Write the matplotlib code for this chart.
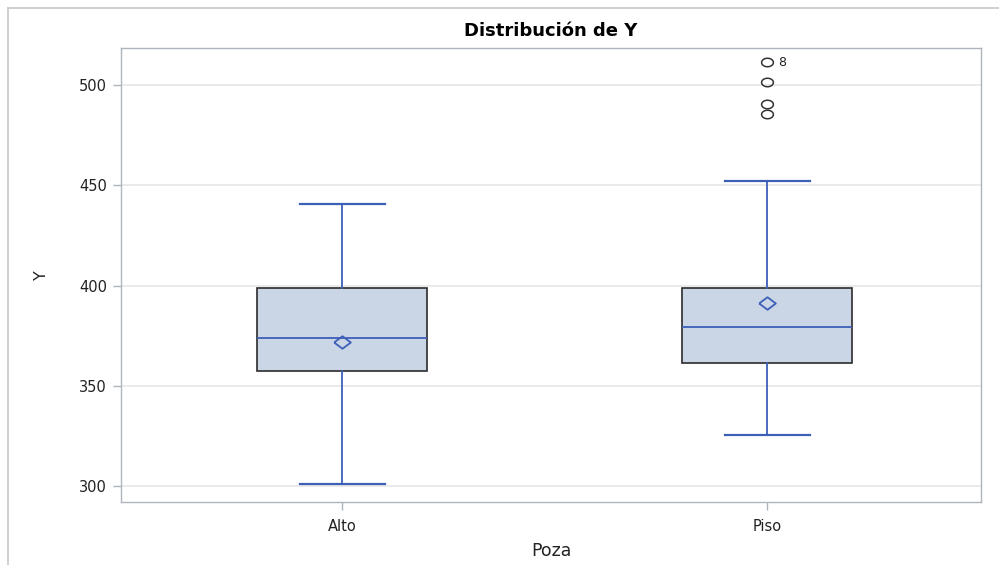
import numpy as np
import matplotlib
matplotlib.use("Agg")
import matplotlib.pyplot as plt
from matplotlib.lines import Line2D

plt.rcParams["font.family"] = ["DejaVu Sans"]

# Summary statistics per group (Poza)
groups = ["Alto", "Piso"]
q1 = [357.4, 361.3]
medians = [373.8, 379.3]
q3 = [398.8, 398.8]
means = [371.8, 391.3]
whisker_low = [301.0, 325.4]
whisker_high = [440.6, 452.1]
outliers = [[], [511.5, 501.5, 490.5, 485.5]]
outlier_ids = [[], ["8", "", "", ""]]

blue = "#3D5FB8"
fill = "#CAD5E6"
edge = "#2B2B2B"
frame_gray = "#AEB4BC"

# slightly wide marker shapes (diamond for the mean, oval for outliers)
diamond = [(-1, 0), (0, 0.75), (1, 0), (0, -0.75), (-1, 0)]
theta = np.linspace(0, 2 * np.pi, 41)
oval = list(zip(np.cos(theta), 0.72 * np.sin(theta)))

stats = []
for i, g in enumerate(groups):
    stats.append({
        "label": g,
        "q1": q1[i],
        "med": medians[i],
        "q3": q3[i],
        "mean": means[i],
        "whislo": whisker_low[i],
        "whishi": whisker_high[i],
        "fliers": outliers[i],
    })

fig = plt.figure(figsize=(9.99, 5.65), dpi=100)
ax = fig.add_axes([0.1211, 0.1115, 0.861, 0.8035])

ax.bxp(
    stats,
    positions=[0, 1],
    widths=0.4,
    patch_artist=True,
    showmeans=True,
    boxprops=dict(facecolor=fill, edgecolor=edge, linewidth=1.2),
    medianprops=dict(color=blue, linewidth=1.3),
    whiskerprops=dict(color=blue, linewidth=1.3),
    capprops=dict(color=blue, linewidth=1.6),
    capwidths=0.2,
    meanprops=dict(marker=diamond, markerfacecolor="none", markeredgecolor=blue,
                   markersize=12, markeredgewidth=1.3),
    flierprops=dict(marker=oval, markerfacecolor="none", markeredgecolor="#333333",
                    markersize=8.5, markeredgewidth=1.1),
    zorder=3,
)

# outlier ID labels
for i, (vals, ids) in enumerate(zip(outliers, outlier_ids)):
    for v, t in zip(vals, ids):
        if t:
            ax.annotate(t, (i, v), xytext=(8, 0), textcoords="offset points",
                        va="center", ha="left", fontsize=9, color="#222222")

ax.set_xlim(-0.52, 1.5035)
ax.set_ylim(292, 518.5)
ax.set_yticks([300, 350, 400, 450, 500])
ax.set_xticks([0, 1])
ax.set_xticklabels(groups)

ax.yaxis.grid(True, color="#E6E6E6", linewidth=1.2, zorder=0)
ax.set_axisbelow(True)

for s in ax.spines.values():
    s.set_color(frame_gray)
    s.set_linewidth(1.0)

ax.tick_params(axis="both", colors=frame_gray, labelcolor="#222222",
               labelsize=10.5, length=6, width=1)
ax.tick_params(axis="x", pad=6)
ax.tick_params(axis="y", pad=4)

ax.set_title("Distribución de Y", fontsize=13, fontweight="bold", pad=9)
ax.set_xlabel("Poza", fontsize=12.5, color="#222222", labelpad=6)
ax.set_ylabel("Y", fontsize=11.5, color="#222222", labelpad=22)

# outer frame lines around the graph area
fig.add_artist(Line2D([8 / 999, 8 / 999], [0, 1 - 8 / 565], transform=fig.transFigure,
                      color="#C8C8C8", linewidth=1.2))
fig.add_artist(Line2D([8 / 999, 1], [1 - 8 / 565, 1 - 8 / 565], transform=fig.transFigure,
                      color="#C8C8C8", linewidth=1.2))

fig.savefig("out.png", dpi=100)
